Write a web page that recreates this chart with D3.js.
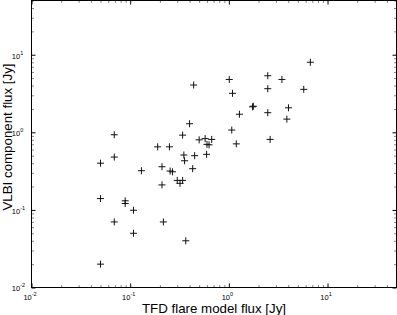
<!DOCTYPE html>
<html>
<head>
<meta charset="utf-8">
<script src="https://cdn.jsdelivr.net/npm/d3@7/dist/d3.min.js"></script>
<style>
html,body{margin:0;padding:0;background:#fff;}
svg{display:block;}
text{font-family:"Liberation Sans",Arial,Helvetica,sans-serif;fill:#000;}
</style>
</head>
<body>
<script>
// TFD flare model flux [Jy]
const tfdFlux = [6.7,1.01,2.48,3.45,0.44,1.09,2.48,5.74,1.74,1.77,4.02,1.28,2.48,3.87,0.40,1.07,0.34,0.069,0.19,0.25,0.50,0.575,0.67,0.60,0.63,1.19,2.62,0.35,0.45,0.595,0.069,0.05,0.356,0.43,0.13,0.21,0.254,0.268,0.30,0.32,0.34,0.21,0.05,0.089,0.089,0.108,0.069,0.217,0.108,0.366,0.05];
// VLBI component flux [Jy]
const vlbiFlux = [8.0,4.8,5.36,4.8,4.07,3.18,3.65,3.58,2.13,2.17,2.07,1.71,1.79,1.48,1.29,1.07,0.92,0.93,0.65,0.65,0.80,0.83,0.81,0.70,0.69,0.71,0.81,0.51,0.50,0.52,0.48,0.40,0.43,0.34,0.32,0.36,0.317,0.31,0.24,0.22,0.24,0.21,0.14,0.131,0.121,0.099,0.07,0.07,0.05,0.04,0.02];
const xDomain = [0.01, 50];
const yDomain = [0.01, 50];
const majorTicks = [0.01, 0.1, 1, 10];
const tickExponents = ["-2", "-1", "0", "1"];
const xTitle = "TFD flare model flux [Jy]";
const yTitle = "VLBI component flux [Jy]";

const W = 397, H = 315;
const L = 31.5, R = 396.5, T = 0.5, B = 287.5;

const svg = d3.select("body").append("svg").attr("width", W).attr("height", H);
svg.append("rect").attr("width", W).attr("height", H).attr("fill", "#fff");

const x = d3.scaleLog().domain(xDomain).range([L, R]);
const y = d3.scaleLog().domain(yDomain).range([B, T]);

const minorX = x.ticks().filter(v => !majorTicks.some(m => Math.abs(m - v) / m < 1e-9));
const minorY = y.ticks().filter(v => !majorTicks.some(m => Math.abs(m - v) / m < 1e-9));

function drawTicks(axisGen, vals, size, color, tx, ty) {
  const g = svg.append("g").attr("transform", `translate(${tx},${ty})`)
    .call(axisGen.tickValues(vals).tickSize(size).tickSizeOuter(0).tickFormat(""));
  g.select(".domain").remove();
  g.selectAll("line").attr("stroke", color).attr("stroke-width", 1);
  return g;
}
// minor ticks (inward)
drawTicks(d3.axisBottom(x), minorX, -2.5, "#888", 0, B);
drawTicks(d3.axisTop(x), minorX, -2.5, "#888", 0, T);
drawTicks(d3.axisLeft(y), minorY, -2.5, "#888", L, 0);
drawTicks(d3.axisRight(y), minorY, -2.5, "#888", R, 0);
// major ticks (inward)
drawTicks(d3.axisBottom(x), majorTicks, -4, "#000", 0, B);
drawTicks(d3.axisTop(x), majorTicks, -4, "#000", 0, T);
drawTicks(d3.axisLeft(y), majorTicks, -4, "#000", L, 0);
drawTicks(d3.axisRight(y), majorTicks, -4, "#000", R, 0);

// frame
svg.append("rect").attr("x", L).attr("y", T).attr("width", R - L).attr("height", B - T)
  .attr("fill", "none").attr("stroke", "#000").attr("stroke-width", 1);

// x tick labels
majorTicks.forEach((v, i) => {
  const t = svg.append("text").attr("x", x(v) - 1.5).attr("y", 299.8)
    .attr("text-anchor", "middle").attr("font-size", 7.5);
  t.append("tspan").text("10");
  t.append("tspan").attr("dy", -4).attr("font-size", 5.5).text(tickExponents[i]);
});
// y tick labels
majorTicks.forEach((v, i) => {
  const t = svg.append("text").attr("x", 11.8).attr("y", y(v) + 3.8)
    .attr("text-anchor", "start").attr("font-size", 7.5);
  t.append("tspan").text("10");
  t.append("tspan").attr("dy", -4).attr("font-size", 5.5).text(tickExponents[i]);
});

// points
const pts = tfdFlux.map((d, i) => [d, vlbiFlux[i]]);
svg.append("g").selectAll("path").data(pts).join("path")
  .attr("transform", d => `translate(${x(d[0])},${y(d[1])})`)
  .attr("d", "M-3.5,0H3.5M0,-3.5V3.5")
  .attr("stroke", "#111").attr("stroke-width", 1).attr("fill", "none");

// axis titles
svg.append("text").attr("x", (L + R) / 2).attr("y", 313)
  .attr("text-anchor", "middle").attr("font-size", 13.3).text(xTitle);
svg.append("text").attr("transform", "translate(11.5,137) rotate(-90)")
  .attr("text-anchor", "middle").attr("font-size", 13.3).text(yTitle);
</script>
</body>
</html>
